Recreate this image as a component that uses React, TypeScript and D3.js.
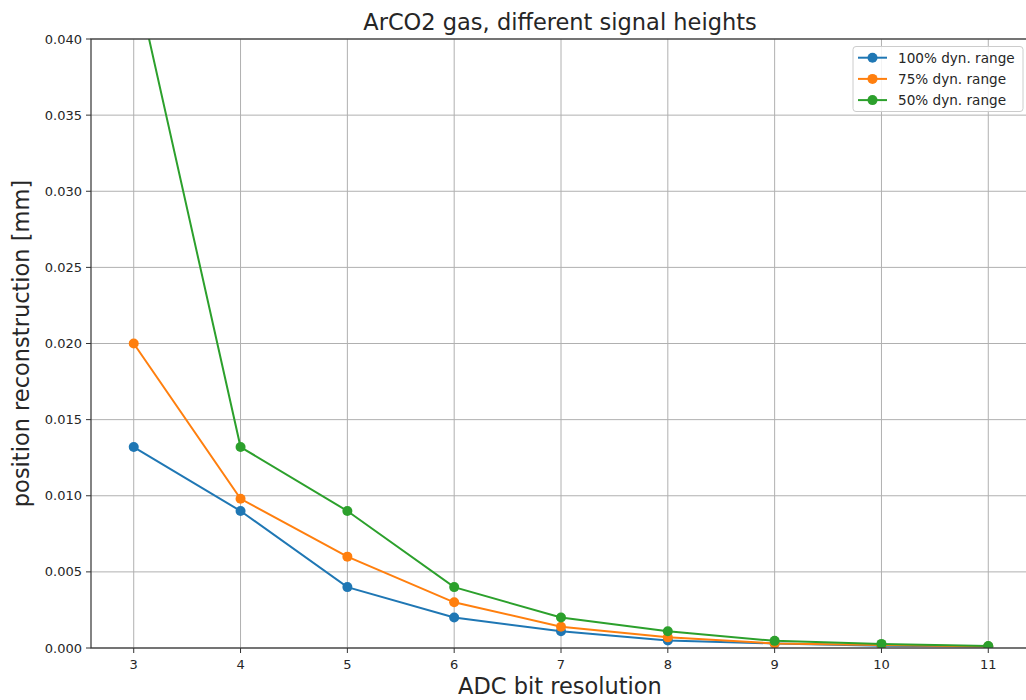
import React from "react";
import * as d3 from "d3";

const bits = [3, 4, 5, 6, 7, 8, 9, 10, 11];
const range100 = [0.0132, 0.009, 0.004, 0.002, 0.0011, 0.0005, 0.0003, 0.00015, 0.0001];
const range75 = [0.02, 0.0098, 0.006, 0.003, 0.0014, 0.0007, 0.0003, 0.0002, 0.0001];
const range50 = [0.0445, 0.0132, 0.009, 0.004, 0.002, 0.0011, 0.00047, 0.00027, 0.00013];
const seriesNames = ["100% dyn. range", "75% dyn. range", "50% dyn. range"];
const colors = ["#1f77b4", "#ff7f0e", "#2ca02c"];
const xTicks = [3, 4, 5, 6, 7, 8, 9, 10, 11];
const yTicks = [0, 0.005, 0.01, 0.015, 0.02, 0.025, 0.03, 0.035, 0.04];

const W = 1026;
const H = 700;
const left = 91;
const right = 1031;
const top = 39;
const bottom = 648;
const font = "DejaVu Sans, sans-serif";

export default function App() {
  const x = d3.scaleLinear().domain([2.6, 11.4]).range([left, right]);
  const y = d3.scaleLinear().domain([0, 0.04]).range([bottom, top]);
  const line = d3
    .line<number>()
    .x((_, i) => x(bits[i]))
    .y((d) => y(d));
  const all = [range100, range75, range50];

  return (
    <svg
      width={W}
      height={H}
      style={{ position: "absolute", left: 0, top: 0, background: "#fff" }}
      fontFamily={font}
    >
      <defs>
        <clipPath id="plot">
          <rect x={left} y={top} width={right - left} height={bottom - top} />
        </clipPath>
      </defs>
      <rect x={0} y={0} width={W} height={H} fill="#fff" />
      {/* grid */}
      {xTicks.map((t) => (
        <line key={"gx" + t} x1={x(t)} x2={x(t)} y1={top} y2={bottom} stroke="#b0b0b0" strokeWidth={1} />
      ))}
      {yTicks.map((t) => (
        <line key={"gy" + t} x1={left} x2={right} y1={y(t)} y2={y(t)} stroke="#b0b0b0" strokeWidth={1} />
      ))}
      {/* series */}
      <g clipPath="url(#plot)">
        {all.map((s, k) => (
          <g key={k}>
            <path d={line(s) || ""} fill="none" stroke={colors[k]} strokeWidth={2} />
            {s.map((v, i) => (
              <circle key={i} cx={x(bits[i])} cy={y(v)} r={5} fill={colors[k]} />
            ))}
          </g>
        ))}
      </g>
      {/* spines */}
      <rect x={left} y={top} width={right - left} height={bottom - top} fill="none" stroke="#333" strokeWidth={1.2} />
      {/* ticks */}
      {xTicks.map((t) => (
        <g key={"tx" + t}>
          <line x1={x(t)} x2={x(t)} y1={bottom} y2={bottom + 5} stroke="#333" />
          <text x={x(t)} y={bottom + 21} textAnchor="middle" fontSize={13} fill="#262626">
            {t}
          </text>
        </g>
      ))}
      {yTicks.map((t) => (
        <g key={"ty" + t}>
          <line x1={left - 5} x2={left} y1={y(t)} y2={y(t)} stroke="#333" />
          <text x={left - 9} y={y(t) + 4.5} textAnchor="end" fontSize={13} fill="#262626">
            {t.toFixed(3)}
          </text>
        </g>
      ))}
      {/* title and labels */}
      <text x={560} y={30} textAnchor="middle" fontSize={22.5} fill="#262626">
        ArCO2 gas, different signal heights
      </text>
      <text x={560} y={694} textAnchor="middle" fontSize={22.5} fill="#262626">
        ADC bit resolution
      </text>
      <text
        transform={`translate(29, ${(top + bottom) / 2}) rotate(-90)`}
        textAnchor="middle"
        fontSize={22.5}
        fill="#262626"
      >
        position reconstruction [mm]
      </text>
      {/* legend */}
      <rect x={853} y={46.5} width={170} height={65} rx={3} fill="#fff" fillOpacity={0.85} stroke="#ccc" />
      {seriesNames.map((n, k) => {
        const ly = 57.7 + k * 21.2;
        return (
          <g key={n}>
            <line x1={858} x2={887} y1={ly} y2={ly} stroke={colors[k]} strokeWidth={2} />
            <circle cx={872.5} cy={ly} r={5} fill={colors[k]} />
            <text x={898} y={ly + 4.8} fontSize={13.6} fill="#262626">
              {n}
            </text>
          </g>
        );
      })}
    </svg>
  );
}
